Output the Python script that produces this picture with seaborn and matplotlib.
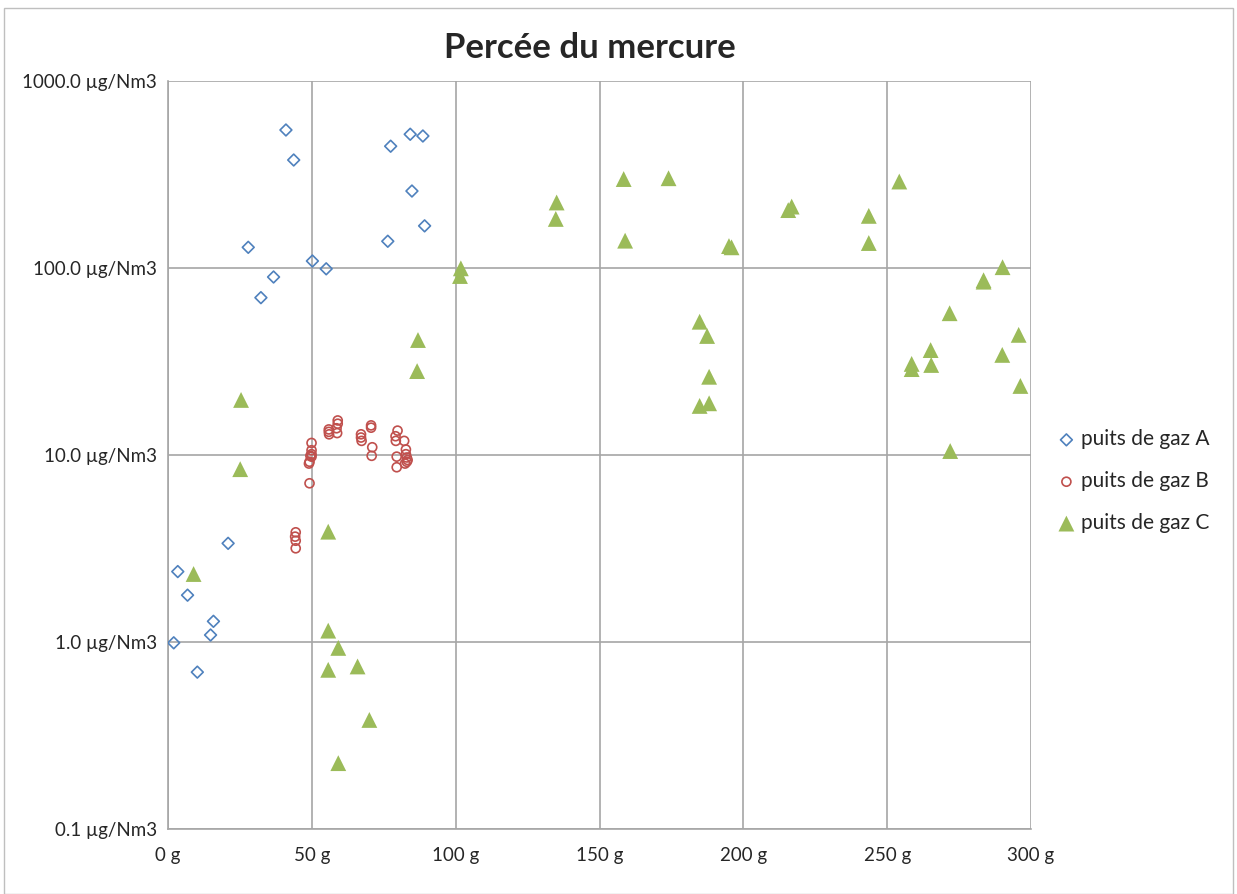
import numpy as np
import pandas as pd
import seaborn as sns
import matplotlib.pyplot as plt
from matplotlib.ticker import FuncFormatter, FixedLocator, NullLocator
from matplotlib.patches import Rectangle

# --- data (g of adsorbent, µg/Nm3) ---
gaz_a_x = [41.0, 43.7, 27.9, 50.2, 55.0, 36.7, 32.3, 77.4, 84.2, 88.6, 84.8, 89.2, 76.4,
           20.9, 3.4, 6.8, 15.8, 14.8, 2.0, 10.2]
gaz_a_y = [547, 378, 129, 109, 99, 89.5, 69.4, 448, 519, 508, 258, 168, 139,
           3.37, 2.38, 1.78, 1.29, 1.09, 0.99, 0.69]

gaz_b_x = [49.9, 49.9, 49.9, 49.9, 49.5, 49.2, 49.0, 49.2,
           55.9, 55.9, 56.0, 59.0, 59.0, 58.6, 58.8,
           67.1, 67.1, 67.3, 70.6, 70.6, 71.0, 70.8,
           79.8, 79.1, 79.2, 82.1, 82.7, 82.7, 79.5, 83.0, 83.3, 82.4, 83.0, 79.5,
           44.4, 44.2, 44.4, 44.4]
gaz_b_y = [11.6, 10.6, 10.1, 9.8, 9.9, 9.2, 9.0, 7.06,
           13.7, 13.3, 12.9, 15.3, 14.7, 13.9, 13.1,
           12.9, 12.4, 11.9, 14.4, 14.0, 11.0, 9.9,
           13.5, 12.6, 11.9, 11.9, 10.7, 10.1, 9.8, 9.7, 9.4, 9.0, 9.2, 8.6,
           3.86, 3.66, 3.48, 3.17]

gaz_c_x = [25.4, 25.1, 55.7, 8.9, 55.7, 59.2, 55.7, 65.9, 70.0, 59.2, 86.9, 86.6,
           101.8, 101.5, 135.1, 134.8, 158.4, 174.0, 158.9, 195.0, 195.9,
           184.8, 187.4, 188.1, 184.8, 188.1,
           216.8, 215.6, 243.6, 243.6, 254.2, 290.1, 283.5, 283.5, 271.7, 295.7,
           290.0, 265.1, 258.5, 258.5, 265.3, 296.3, 271.9]
gaz_c_y = [19.7, 8.4, 3.89, 2.31, 1.15, 0.93, 0.71, 0.74, 0.383, 0.225, 41.2, 28.1,
           99.6, 90.6, 224, 183, 299, 302, 140, 131, 129,
           51.6, 43.3, 26.2, 18.3, 18.9,
           213, 204, 190, 136, 290, 101, 84.5, 86, 57.3, 43.9,
           34.3, 36.4, 30.7, 28.8, 30.3, 23.4, 10.5]

series_names = ["puits de gaz A", "puits de gaz B", "puits de gaz C"]
colors = ["#4F81BD", "#C0504D", "#9BBB59"]

sns.set_style("white")
plt.rcParams["font.family"] = ["Lato", "DejaVu Sans"]

fig = plt.figure(figsize=(12.37, 8.94), dpi=100)
ax = fig.add_axes([0.1358, 0.0727, 0.8335 - 0.1358, 0.9094 - 0.0727])

df_a = pd.DataFrame({"x": gaz_a_x, "y": gaz_a_y})
df_b = pd.DataFrame({"x": gaz_b_x, "y": gaz_b_y})
df_c = pd.DataFrame({"x": gaz_c_x, "y": gaz_c_y})

sns.scatterplot(data=df_a, x="x", y="y", ax=ax, marker="D", s=36, color=colors[0],
                facecolor="none", edgecolor=colors[0], linewidth=1.2, label=series_names[0], zorder=3)
sns.scatterplot(data=df_b, x="x", y="y", ax=ax, marker="o", s=42, color=colors[1],
                facecolor="none", edgecolor=colors[1], linewidth=1.2, label=series_names[1], zorder=3)
sns.scatterplot(data=df_c, x="x", y="y", ax=ax, marker="^", s=130, color=colors[2],
                edgecolor="none", linewidth=0, label=series_names[2], zorder=3)

ax.set_yscale("log")
ax.set_xlim(0, 300)
ax.set_ylim(0.1, 1000)
ax.xaxis.set_major_locator(FixedLocator([0, 50, 100, 150, 200, 250, 300]))
ax.yaxis.set_major_locator(FixedLocator([0.1, 1, 10, 100, 1000]))
ax.yaxis.set_minor_locator(NullLocator())
ax.xaxis.set_major_formatter(FuncFormatter(lambda v, p: f"{v:.0f} g"))
ax.yaxis.set_major_formatter(FuncFormatter(lambda v, p: f"{v:.1f} µg/Nm3"))

ax.grid(True, color="#A6A6A6", linewidth=1.2)
for side in ["top", "right"]:
    ax.spines[side].set_visible(False)
for side in ["left", "bottom"]:
    ax.spines[side].set_color("#A6A6A6")
    ax.spines[side].set_linewidth(1.2)
ax.tick_params(axis="both", which="major", length=5, color="#A6A6A6", labelsize=13.5,
               direction="out", pad=3)
ax.tick_params(axis="x", pad=8)
ax.set_xlabel("")
ax.set_ylabel("")

fig.text(0.477, 0.946, "Percée du mercure", ha="center", va="center",
         fontsize=25, fontweight="bold")

ax.legend(loc="center left", bbox_to_anchor=(1.012, 0.465), frameon=False,
          fontsize=15, labelspacing=1.05, handlelength=1.0, handletextpad=0.2,
          borderpad=0.2, markerscale=1.0)

fig.patches.append(Rectangle((0.003, 0.0), 0.994, 0.991, transform=fig.transFigure,
                             fill=False, edgecolor="#BFBFBF", linewidth=1))

fig.savefig("out.png", dpi=100)
